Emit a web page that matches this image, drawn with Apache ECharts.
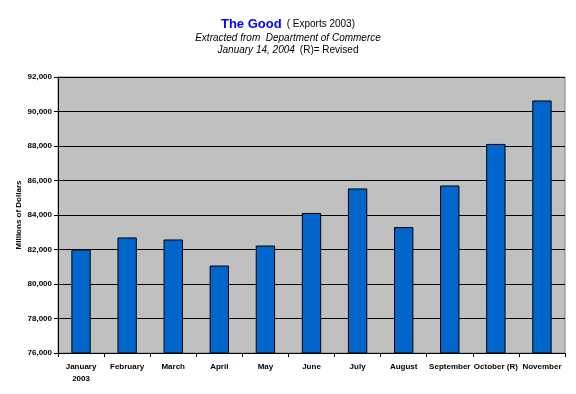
<!DOCTYPE html>
<html><head><meta charset="utf-8">
<script src="https://cdn.jsdelivr.net/npm/echarts@6/dist/echarts.min.js"></script>
<style>html,body{margin:0;padding:0;background:#fff}#c{width:576px;height:394px}</style>
</head><body><div id="c"></div>
<script>
const categories = ['January\n2003','February','March','April','May','June','July','August','September','October (R)','November'];
const exportsValues = [82000, 82700, 82580, 81070, 82230, 84120, 85540, 83300, 85710, 88120, 90640];
const yMin = 76000, yMax = 92000, yStep = 2000;

const chart = echarts.init(document.getElementById('c'), null, {renderer:'canvas'});
const F = '"Liberation Sans", Arial, sans-serif';
chart.setOption({
  animation: false,
  backgroundColor: '#ffffff',
  title: {
    left: 'center', top: 12,
    text: '{a|The Good} {b|( Exports 2003)}\n{c|Extracted from  Department of Commerce}\n{c|January 14, 2004} {b|(R)= Revised}',
    textStyle: {
      fontFamily: F, lineHeight: 12, fontWeight: 'normal',
      rich: {
        a: {fontSize: 13, fontWeight: 'bold', color: '#0000ff', fontFamily: F, lineHeight: 15},
        b: {fontSize: 10, fontWeight: 'normal', color: '#000', fontFamily: F, lineHeight: 12},
        c: {fontSize: 10, fontWeight: 'normal', fontStyle: 'italic', color: '#000', fontFamily: F, lineHeight: 12}
      }
    }
  },
  grid: {left: 58, right: 11, top: 77, bottom: 41, show: true, backgroundColor: '#c0c0c0', borderColor: '#808080', borderWidth: 1},
  xAxis: {
    type: 'category', data: categories,
    axisLine: {lineStyle: {color: '#000', width: 1}},
    axisTick: {show: true, alignWithLabel: false, length: 4, lineStyle: {color: '#000'}},
    axisLabel: {interval: 0, color: '#000', fontSize: 8, fontWeight: 'bold', fontFamily: F, margin: 8, lineHeight: 12}
  },
  yAxis: {
    type: 'value', min: yMin, max: yMax, interval: yStep,
    name: 'Millions of Dollars', nameLocation: 'middle', nameGap: 35, nameMoveOverlap: false,
    nameTextStyle: {fontSize: 8, fontWeight: 'bold', color: '#000', fontFamily: F},
    axisLine: {show: true, lineStyle: {color: '#000', width: 1}},
    axisTick: {show: true, length: 4, lineStyle: {color: '#000'}},
    splitLine: {show: true, lineStyle: {color: '#000', width: 1}},
    axisLabel: {color: '#000', fontSize: 8, fontWeight: 'bold', fontFamily: F, margin: 6,
      formatter: v => v.toLocaleString('en-US')}
  },
  series: [{
    type: 'bar', data: exportsValues, barWidth: '42%',
    itemStyle: {color: '#0066cc', borderColor: '#000', borderWidth: 1}
  }]
});
</script></body></html>
